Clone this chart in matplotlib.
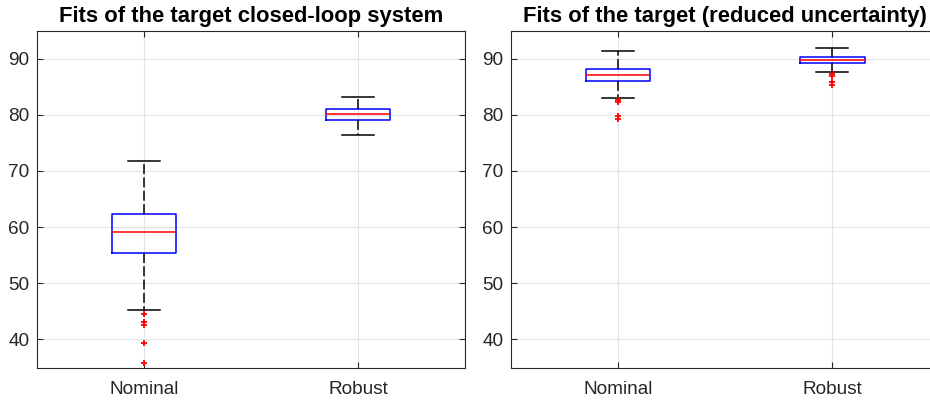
import numpy as np
import matplotlib.pyplot as plt

plt.rcParams['font.family'] = ['Liberation Sans', 'DejaVu Sans']

# Box statistics
labels = ['Nominal', 'Robust']

# left: target closed-loop system
left_q1 = [55.4, 79.1]
left_med = [59.2, 80.05]
left_q3 = [62.3, 81.0]
left_lo = [45.3, 76.4]
left_hi = [71.8, 83.1]
left_fliers = [[44.6, 43.1, 42.5, 39.3, 35.8], []]

# right: reduced uncertainty
right_q1 = [86.0, 89.2]
right_med = [87.1, 89.7]
right_q3 = [88.15, 90.3]
right_lo = [83.0, 87.55]
right_hi = [91.4, 91.8]
right_fliers = [[82.7, 82.2, 79.7, 79.2], [87.3, 86.85, 85.8, 85.3]]

titles = ['Fits of the target closed-loop system',
          'Fits of the target (reduced uncertainty)']
yticks = [40, 50, 60, 70, 80, 90]


def make_stats(q1, med, q3, lo, hi, fl):
    stats = []
    for i in range(len(labels)):
        stats.append(dict(label=labels[i], q1=q1[i], med=med[i], q3=q3[i],
                          whislo=lo[i], whishi=hi[i], fliers=fl[i]))
    return stats


fig = plt.figure(figsize=(9.3, 4.0), dpi=100)
ax1 = fig.add_axes([37/930, 1-367.5/400, 428/930, 337/400])
ax2 = fig.add_axes([511/930, 1-367.5/400, 428.5/930, 337/400])

all_stats = [make_stats(left_q1, left_med, left_q3, left_lo, left_hi, left_fliers),
             make_stats(right_q1, right_med, right_q3, right_lo, right_hi, right_fliers)]

for ax, stats, title in zip([ax1, ax2], all_stats, titles):
    ax.bxp(stats, positions=[1, 2], widths=0.3, showfliers=True,
           boxprops=dict(color='blue', linewidth=1.1),
           medianprops=dict(color='red', linewidth=1.1),
           whiskerprops=dict(color='black', linewidth=1.1, linestyle=(0, (6.5, 2.2))),
           capprops=dict(color='black', linewidth=1.1),
           flierprops=dict(marker='+', markeredgecolor='red', markersize=5,
                           markeredgewidth=1.3, linestyle='none'))
    ax.set_xlim(0.5, 2.5)
    ax.set_ylim(35, 95)
    ax.set_yticks(yticks)
    ax.set_xticks([1, 2])
    ax.set_xticklabels(labels)
    ax.grid(True, color='#e3e3e3', linewidth=0.8)
    ax.set_axisbelow(True)
    ax.tick_params(direction='in', top=True, right=True, length=4.5,
                   labelsize=13.7, colors='#262626', width=0.8)
    ax.tick_params(axis='y', pad=5.5)
    ax.tick_params(axis='x', pad=10)
    for s in ax.spines.values():
        s.set_color('#262626')
        s.set_linewidth(0.8)
    ax.set_title(title, fontsize=15.8, fontweight='bold', pad=6)

fig.savefig('out.png', dpi=100)
